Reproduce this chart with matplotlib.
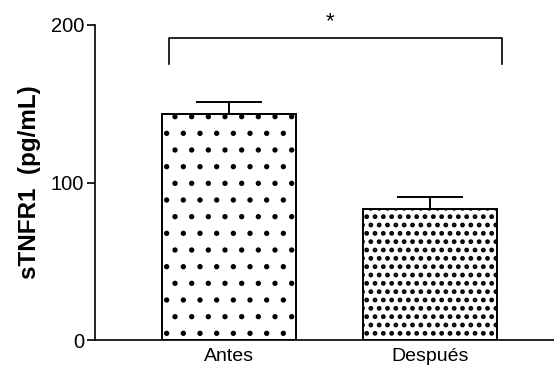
import numpy as np
import matplotlib.pyplot as plt

plt.rcParams['font.family'] = ['Liberation Sans', 'DejaVu Sans']
plt.rcParams['hatch.linewidth'] = 1.3

groups = ['Antes', 'Después']
means = [143.2, 83.3]
sem = [7.8, 7.6]
hatches = ['.', '..']
hatch_lw = [1.4, 2.2]

fig = plt.figure(figsize=(5.54, 3.71), dpi=100)
ax = fig.add_axes([95 / 554, 31 / 371, 459 / 554, 315 / 371])

x = np.arange(len(groups))
bars = ax.bar(x, means, width=0.667, color='white', edgecolor='black', linewidth=1.4,
              hatch=hatches, zorder=2)
for b, lw in zip(bars, hatch_lw):
    if hasattr(b, 'set_hatch_linewidth'):
        b.set_hatch_linewidth(lw)
ax.errorbar(x, means, yerr=[np.zeros(len(sem)), sem], fmt='none', ecolor='black',
            elinewidth=1.4, capsize=24, capthick=1.4, zorder=1)

# significance bracket
ax.plot([-0.30, -0.30, 1.355, 1.355], [175, 191.5, 191.5, 175], color='black',
        lw=1.2, clip_on=False)
ax.text(0.5, 202, '*', ha='center', va='center', fontsize=16, clip_on=False)

ax.set_xlim(-0.669, 1.615)
ax.set_ylim(0, 200)
ax.set_yticks([0, 100, 200])
ax.set_xticks(x)
ax.set_xticklabels(groups, fontsize=14)
ax.tick_params(axis='y', labelsize=14.5, length=6, width=1.2, direction='out', pad=2)
ax.tick_params(axis='x', length=0, pad=6)
for s in ['top', 'right']:
    ax.spines[s].set_visible(False)
for s in ['left', 'bottom']:
    ax.spines[s].set_linewidth(1.2)
ax.set_ylabel('sTNFR1  (pg/mL)', fontsize=17.5, fontweight='bold', labelpad=7)

fig.savefig('out.png', dpi=100)
